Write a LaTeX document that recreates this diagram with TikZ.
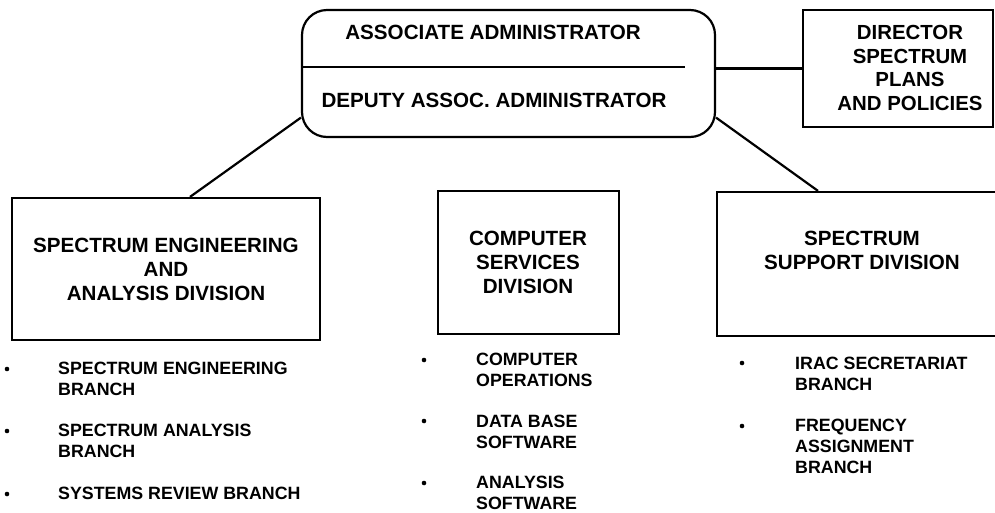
\documentclass[tikz,border=0pt]{standalone}
\usepackage{fontspec}
\setmainfont{Liberation Sans}
\usetikzlibrary{calc}
\tikzset{
  frame/.style={draw=black, line width=2.2pt, inner sep=0pt},
  link/.style={draw=black, line width=2.2pt},
  boxtext/.style={font=\bfseries\fontsize{20.6}{24}\selectfont, align=center, inner sep=0pt},
  itemtext/.style={font=\bfseries\fontsize{17.8}{21}\selectfont, align=left, anchor=west, inner sep=0pt},
  dot/.style={circle, fill=black, inner sep=0pt, minimum size=4.6pt}
}
\begin{document}
\begin{tikzpicture}[x=1pt,y=-1pt]
\useasboundingbox (0,0) rectangle (995,512);
% top box
\node[frame, rounded corners=25pt, minimum width=413pt, minimum height=127pt] (top) at (508.5,73.5) {};
\coordinate (divL) at (302,67);
\coordinate (divR) at (685,67);
\draw[link, line width=1.8pt] (divL) -- (divR);
\node[boxtext] (aa) at (493,32) {ASSOCIATE ADMINISTRATOR};
\node[boxtext] (daa) at (494,100) {DEPUTY ASSOC. ADMINISTRATOR};
% director
\node[frame, minimum width=190pt, minimum height=117pt] (dir) at (898,68.5) {};
\node[boxtext, font=\bfseries\fontsize{20.4}{23.5}\selectfont] (dirt) at (910,68) {DIRECTOR\\SPECTRUM\\PLANS\\AND POLICIES};
% divisions
\node[frame, minimum width=308pt, minimum height=142pt] (left) at (166,269) {};
\node[boxtext] (leftt) at (166,269) {SPECTRUM ENGINEERING\\AND\\ANALYSIS DIVISION};
\node[frame, minimum width=181pt, minimum height=143pt] (mid) at (528.5,262.5) {};
\node[boxtext] (midt) at (528,262) {COMPUTER\\SERVICES\\DIVISION};
\node[frame, minimum width=280pt, minimum height=144pt] (right) at (857,264) {};
\node[boxtext] (rightt) at (862,250) {SPECTRUM\\SUPPORT DIVISION};
% connectors
\draw[link] (top.east |- dir.west) -- (dir.west);
\draw[link] (top.192.3) -- ($(left.north)+(24,0)$);
\draw[link] ($(mid.north)+(-15.5,0)$ |- top.south) -- ($(mid.north)+(-15.5,0)$);
\draw[link] (top.348) -- ($(right.north)+(-39,0)$);
% left list
\node[dot] (b1) at (7,369) {};
\node[itemtext] (i1) at (58,379) {SPECTRUM ENGINEERING\\BRANCH};
\node[dot] (b2) at (7,431) {};
\node[itemtext] (i2) at (58,441) {SPECTRUM ANALYSIS\\BRANCH};
\node[dot] (b3) at (7,494) {};
\node[itemtext] (i3) at (58,493) {SYSTEMS REVIEW BRANCH};
% middle list
\node[dot] (b4) at (424,360) {};
\node[itemtext] (i4) at (476,369.5) {COMPUTER\\OPERATIONS};
\node[dot] (b5) at (424,421) {};
\node[itemtext] (i5) at (476,431.5) {DATA BASE\\SOFTWARE};
\node[dot] (b6) at (424,483) {};
\node[itemtext] (i6) at (476,493) {ANALYSIS\\SOFTWARE};
% right list
\node[dot] (b7) at (742,363) {};
\node[itemtext] (i7) at (795,373.5) {IRAC SECRETARIAT\\BRANCH};
\node[dot] (b8) at (742,426) {};
\node[itemtext] (i8) at (795,446.5) {FREQUENCY\\ASSIGNMENT\\BRANCH};
\end{tikzpicture}
\end{document}
